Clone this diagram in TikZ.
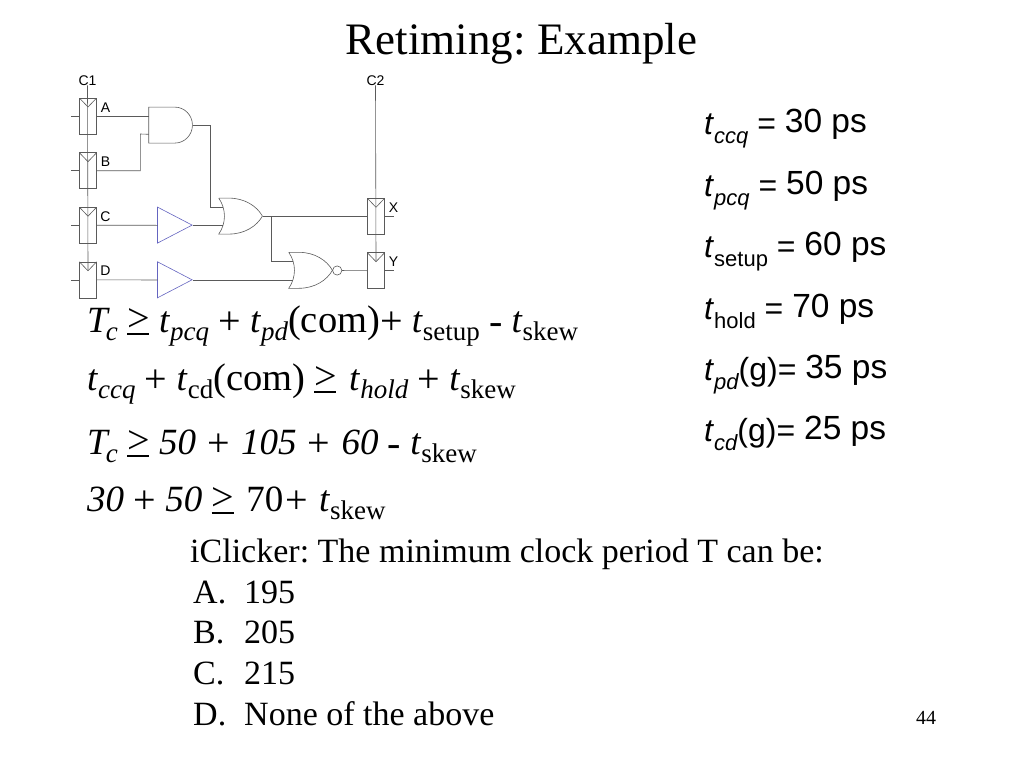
\documentclass[tikz,border=0pt]{standalone}
\usepackage{fontspec}
\setmainfont{Liberation Serif}
\setsansfont{Liberation Sans}
\frenchspacing
\definecolor{wirecol}{HTML}{5A5A5A}
\definecolor{bufcol}{HTML}{6464C0}
\newcommand{\lowtxt}[1]{\raisebox{-0.24em}{\fontsize{27}{27}\selectfont #1}}
\newcommand{\lowit}[1]{\lowtxt{\itshape #1}}
\newcommand{\lowsf}[1]{\raisebox{-0.3em}{\fontsize{22}{22}\selectfont #1}}
\newcommand{\lowsfit}[1]{\lowsf{\itshape #1}}
\newcommand{\tvar}{\textit{t}}
\newcommand{\Tvar}{\textit{T}\kern-4pt\lowit{c}}
\newcommand{\comtxt}{{\fontsize{38.5}{38.5}\selectfont (com)}}
\newcommand{\bigsym}[1]{\raisebox{-2pt}{\fontsize{40}{40}\selectfont #1}}
\newcommand{\wideplus}{\kern2pt\bigsym{+}\kern2pt}
\newcommand{\gesym}{\raisebox{.5pt}{\rlap{\rule[-3pt]{22pt}{1.5pt}}\fontsize{40}{40}\selectfont >}}
\newcommand{\pval}[1]{\raisebox{2pt}{\fontsize{33.5}{33.5}\selectfont #1}}
\tikzset{
    wire/.style={draw=wirecol,line width=.6pt},
    ffbox/.style={wire,minimum width=17.2pt,minimum height=36pt,inner sep=0pt,
        path picture={\draw[wire] (path picture bounding box.north west)
            -- ([yshift=-9pt]path picture bounding box.north) -- (path picture bounding box.north east);}},
    gatebox/.style={inner sep=0pt,minimum height=36pt,minimum width=43.7pt},
    andgate/.style={gatebox,append after command={\pgfextra{
        \begin{scope}[shift={(\tikzlastnode.north west)},x=1pt,y=-1pt]
            \draw[wire] (0,0) -- (26,0) arc[start angle=90,end angle=-90,x radius=17.7pt,y radius=18pt] -- (0,36) -- cycle;
        \end{scope}}}},
    orgate/.style={gatebox,append after command={\pgfextra{
        \begin{scope}[shift={(\tikzlastnode.north west)},x=1pt,y=-1pt]
            \draw[wire] (0,0) -- (10,0) .. controls (26,0) and (38,8) .. (43.7,18) .. controls (38,28) and (26,36) .. (10,36)
                -- (0,36) .. controls (7.6,25) and (7.6,11) .. (0,0);
        \end{scope}}}},
    bufgate/.style={inner sep=0pt,minimum height=36pt,minimum width=34.6pt,append after command={\pgfextra{
        \begin{scope}[shift={(\tikzlastnode.north west)},x=1pt,y=-1pt]
            \draw[draw=bufcol,line width=.6pt] (0,0) -- (34.6,18) -- (0,36) -- cycle;
        \end{scope}}}},
    bubble/.style={wire,circle,inner sep=0pt,minimum size=9.2pt},
    pinlabel/.style={font=\sffamily\fontsize{14}{14}\selectfont,inner sep=0pt,anchor=base},
    eqline/.style={font=\fontsize{37}{37}\selectfont,inner sep=0pt,anchor=base west},
    listline/.style={font=\fontsize{34}{34}\selectfont,inner sep=0pt,anchor=base west},
    paramline/.style={font=\sffamily\fontsize{32}{32}\selectfont,inner sep=0pt,anchor=base west}
}
\begin{document}
\begin{tikzpicture}[x=1pt,y=-1pt]
                    \useasboundingbox (0,0) rectangle (1024,768);
                    \node[font=\fontsize{45}{45}\selectfont,inner sep=0pt,anchor=base] (title) at (521.5,55) {Retiming: Example};
                    \node[pinlabel] (C1) at (87.5,85) {C1};
                    \node[pinlabel] (C2) at (375.5,85) {C2};
                    \node[ffbox] (ffA) at (88,116) {};
                    \node[ffbox] (ffB) at (88,170.7) {};
                    \node[ffbox] (ffC) at (88,225.2) {};
                    \node[ffbox] (ffD) at (88,279.8) {};
                    \node[ffbox] (ffX) at (376,216.3) {};
                    \node[ffbox] (ffY) at (376,270.7) {};
                    \node[pinlabel] (labA) at (105.5,112) {A};
                    \node[pinlabel] (labB) at (105.5,166) {B};
                    \node[pinlabel] (labC) at (105.5,221) {C};
                    \node[pinlabel] (labD) at (105.5,275) {D};
                    \node[pinlabel] (labX) at (393.5,212) {X};
                    \node[pinlabel] (labY) at (393.5,266) {Y};
                    \node[andgate] (andg) at (170.8,125.3) {};
                    \node[orgate] (org) at (240.8,216.3) {};
                    \node[orgate] (norg) at (310.8,270.5) {};
                    \node[bubble] (bub) at (337.2,270.5) {};
                    \node[bufgate] (bufC) at (175,225.3) {};
                    \node[bufgate] (bufD) at (175,280) {};
                    \draw[wire] (C1.south) -- ([yshift=-9pt]ffD.north);
                    \draw[wire] (C2.south) -- ([yshift=-9pt]ffY.north);
                    \foreach \ff in {ffA,ffB,ffC,ffD}
                        \draw[wire] (\ff.west) -- ++(-8.5,0);
                    \foreach \ff in {ffX,ffY}
                        \draw[wire] (\ff.east) -- ++(9,0);
                    \draw[wire] (ffA.east) -- (ffA.east -| andg.west);
                    \draw[wire] (ffB.east) -| (140.3,134) -- ([yshift=-9pt]andg.west);
                    \draw[wire] (andg.east) -| (210,207.3) -- ([shift={(4pt,9pt)}]org.west);
                    \draw[wire] (ffC.east) -- (bufC.west);
                    \draw[wire] (bufC.east) -- ([shift={(4pt,-9pt)}]org.west);
                    \draw[wire] (ffD.east) -- (bufD.west);
                    \draw[wire] (bufD.east) -- ([shift={(4pt,-9.5pt)}]norg.west);
                    \draw[wire] (org.east) -- (ffX.west);
                    \draw[wire] (271.7,216.3) |- ([shift={(4pt,9pt)}]norg.west);
                    \draw[wire] (bub) -- (ffY.west);
                    \node[eqline] (eqa) at (87,332) {\Tvar{} \gesym{} \tvar\lowit{pcq} \bigsym{+} \tvar\lowit{pd}\comtxt\bigsym{+} \tvar\lowtxt{setup} \bigsym{-} \tvar\lowtxt{skew}};
                    \node[eqline] (eqb) at (87,390) {\tvar\lowit{ccq} \bigsym{+} \tvar\lowtxt{cd}\comtxt{} \gesym{}\kern3pt{} \tvar\lowit{hold} \bigsym{+} \tvar\lowtxt{skew}};
                    \node[eqline] (eqc) at (87,454) {\Tvar{} \gesym{} \textit{50} \wideplus{} \textit{105} \wideplus{} \textit{60} \bigsym{-} \tvar\lowtxt{skew}};
                    \node[eqline] (eqd) at (87,511) {\textit{30} \bigsym{+} \textit{50} \gesym{}\kern3pt{} 70\wideplus{} \tvar\lowtxt{skew}};
                    \node[listline] (ask) at (190,562) {iClicker: The minimum clock period T can be:};
                    \node[listline] (optA) at (193,603) {A.};
                    \node[listline] (optB) at (193,643) {B.};
                    \node[listline] (optC) at (193,684) {C.};
                    \node[listline] (optD) at (193,725) {D.};
                    \node[listline] (valA) at (244,603) {195};
                    \node[listline] (valB) at (244,643) {205};
                    \node[listline] (valC) at (244,684) {215};
                    \node[listline] (valD) at (244,725) {None of the above};
                    \node[paramline] (pa) at (704,134) {\textit{t}\lowsfit{ccq} = \pval{30 ps}};
                    \node[paramline] (pb) at (704,196) {\textit{t}\lowsfit{pcq} = \pval{50 ps}};
                    \node[paramline] (pc) at (704,257) {\textit{t}\lowsf{setup} = \pval{60 ps}};
                    \node[paramline] (pd) at (704,319) {\textit{t}\lowsf{hold} = \pval{70 ps}};
                    \node[paramline] (pe) at (704,380) {\textit{t}\lowsfit{pd}(g)= \pval{35 ps}};
                    \node[paramline] (pf) at (704,441) {\textit{t}\lowsfit{cd}(g)= \pval{25 ps}};
                    \node[font=\fontsize{20}{20}\selectfont,inner sep=0pt,anchor=base] (pageno) at (926,724) {44};
                \end{tikzpicture}
\end{document}
